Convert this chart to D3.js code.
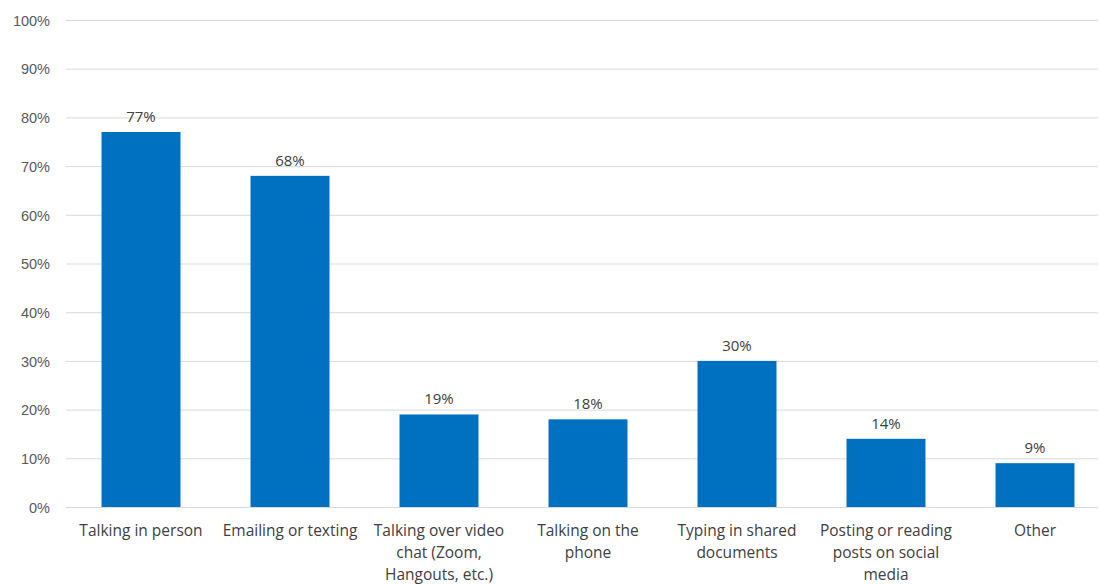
<!DOCTYPE html>
<html>
<head>
<meta charset="utf-8">
<script src="https://cdn.jsdelivr.net/npm/d3@7"></script>
<style>
  html, body { margin: 0; padding: 0; background: #fff; }
  svg { display: block; font-family: "Open Sans", "Liberation Sans", sans-serif; }
</style>
</head>
<body>
<svg id="chart" width="1099" height="584"></svg>
<script>
const categories = [
  "Talking in person",
  "Emailing or texting",
  "Talking over video\nchat (Zoom,\nHangouts, etc.)",
  "Talking on the\nphone",
  "Typing in shared\ndocuments",
  "Posting or reading\nposts on social\nmedia",
  "Other"
];
const values = [77, 68, 19, 18, 30, 14, 9];
const yTicks = [0, 10, 20, 30, 40, 50, 60, 70, 80, 90, 100];

const svg = d3.select("#chart");
const plotLeft = 66, plotRight = 1098, plotTop = 20, plotBottom = 507;

const x = d3.scaleBand().domain(categories).range([66.5, 1109.5]).paddingInner(0.47).paddingOuter(0.235);
const y = d3.scaleLinear().domain([0, 100]).range([plotBottom, plotTop]);

// gridlines
svg.append("g").selectAll("line").data(yTicks).join("line")
  .attr("x1", plotLeft).attr("x2", plotRight)
  .attr("y1", d => y(d) + 0.5).attr("y2", d => y(d) + 0.5)
  .attr("stroke", "#d9d9d9").attr("stroke-width", 1);

// y axis labels
const yAxis = d3.axisLeft(y).tickValues(yTicks).tickFormat(d => d + "%").tickSize(0).tickPadding(0);
const ya = svg.append("g").attr("transform", `translate(50,0)`).call(yAxis);
ya.select(".domain").remove();
ya.selectAll("text").attr("font-size", 14.5).attr("fill", "#595959").attr("font-family", "inherit").attr("dy", "0.36em");

// bars
svg.append("g").selectAll("rect").data(values).join("rect")
  .attr("x", (d, i) => x(categories[i]))
  .attr("width", x.bandwidth())
  .attr("y", d => y(d))
  .attr("height", d => y(0) - y(d))
  .attr("fill", "#0070c0");

// data labels
svg.append("g").selectAll("text").data(values).join("text")
  .attr("x", (d, i) => x(categories[i]) + x.bandwidth() / 2)
  .attr("y", d => y(d) - 10)
  .attr("text-anchor", "middle")
  .attr("font-size", 15)
  .attr("fill", "#404040")
  .text(d => d + "%");

// category labels
const cl = svg.append("g").selectAll("text").data(categories).join("text")
  .attr("x", d => x(d) + x.bandwidth() / 2)
  .attr("y", 536)
  .attr("text-anchor", "middle")
  .attr("font-size", 15.5)
  .attr("fill", "#404040");
cl.each(function(d) {
  const t = d3.select(this);
  d.split("\n").forEach((line, i) => {
    t.append("tspan").attr("x", t.attr("x")).attr("dy", i === 0 ? 0 : 22).text(line);
  });
});
</script>
</body>
</html>
